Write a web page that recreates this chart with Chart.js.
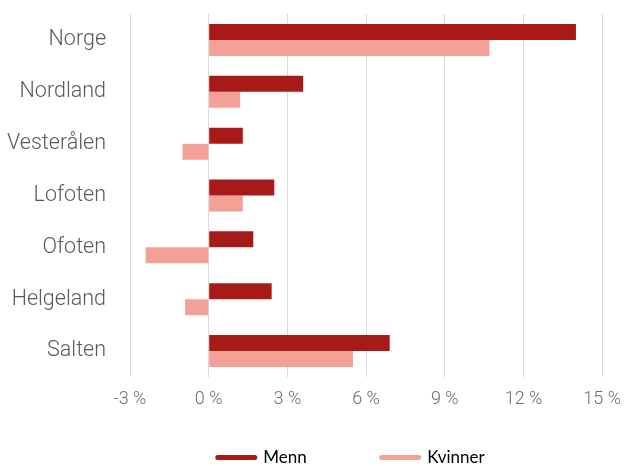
<!DOCTYPE html>
<html>
<head>
<meta charset="utf-8">
<script src="https://cdn.jsdelivr.net/npm/chart.js@4"></script>
<style>
    html, body { margin: 0; padding: 0; background: #fff; }
    #wrap { width: 633px; height: 466px; }
</style>
</head>
<body>
<div id="wrap"><canvas id="chart"></canvas></div>
<script>
const regions = ['Norge', 'Nordland', 'Vesterålen', 'Lofoten', 'Ofoten', 'Helgeland', 'Salten'];
const menn = [14.0, 3.6, 1.3, 2.5, 1.7, 2.4, 6.9];
const kvinner = [10.7, 1.2, -1.0, 1.3, -2.4, -0.9, 5.5];
const xTicks = [-3, 0, 3, 6, 9, 12, 15];

const mennColor = '#a81a18';
const kvinnerColor = '#f3a097';
const lightFont = "Roboto";

const ctx = document.getElementById('chart');

new Chart(ctx, {
    type: 'bar',
    data: {
        labels: regions,
        datasets: [{
            label: 'Menn',
            data: menn,
            backgroundColor: mennColor
        }, {
            label: 'Kvinner',
            data: kvinner,
            backgroundColor: kvinnerColor
        }]
    },
    options: {
        indexAxis: 'y',
        responsive: true,
        maintainAspectRatio: false,
        animation: false,
        datasets: {
            bar: { categoryPercentage: 0.617, barPercentage: 1 }
        },
        layout: {
            padding: { top: 14, right: 22, bottom: 0, left: 0 }
        },
        scales: {
            x: {
                min: xTicks[0],
                max: xTicks[xTicks.length - 1],
                afterBuildTicks: function(scale) {
                    scale.ticks = xTicks.map(v => ({ value: v }));
                },
                afterFit: function(scale) { scale.height = 48; },
                grid: { color: '#d9d9d9', lineWidth: 1, drawTicks: false },
                border: { display: false },
                ticks: {
                    padding: 12,
                    color: '#6e6e6e',
                    font: { family: lightFont, size: 18, weight: '300' },
                    callback: function(value) { return value + ' %'; }
                }
            },
            y: {
                afterFit: function(scale) { scale.width = 130; },
                // tick marks are hidden with the grid; tickLength only spaces the labels
                grid: { display: false, drawTicks: true, tickLength: 24 },
                border: { display: false },
                ticks: {
                    padding: 0,
                    color: '#5a5a5a',
                    font: { family: lightFont, size: 21.5, weight: '300' }
                }
            }
        },
        plugins: {
            tooltip: { enabled: false },
            legend: {
                position: 'bottom',
                fullSize: false,
                maxHeight: 41,
                labels: {
                    usePointStyle: true,
                    pointStyleWidth: 37,
                    padding: 24,
                    color: '#1a1a1a',
                    font: { family: 'Lato', size: 17, weight: '400' },
                    generateLabels: function(chart) {
                        return chart.data.datasets.map(function(ds, i) {
                            return {
                                text: i === 0 ? ds.label + '\u2003\u2003\u2003\u2002\u2009\u2009' : ds.label + '\u2003\u2003\u2009\u2009',
                                fillStyle: ds.backgroundColor,
                                strokeStyle: ds.backgroundColor,
                                lineWidth: 5,
                                lineCap: 'round',
                                pointStyle: 'line',
                                hidden: false,
                                datasetIndex: i
                            };
                        });
                    }
                }
            }
        }
    }
});
</script>
</body>
</html>
